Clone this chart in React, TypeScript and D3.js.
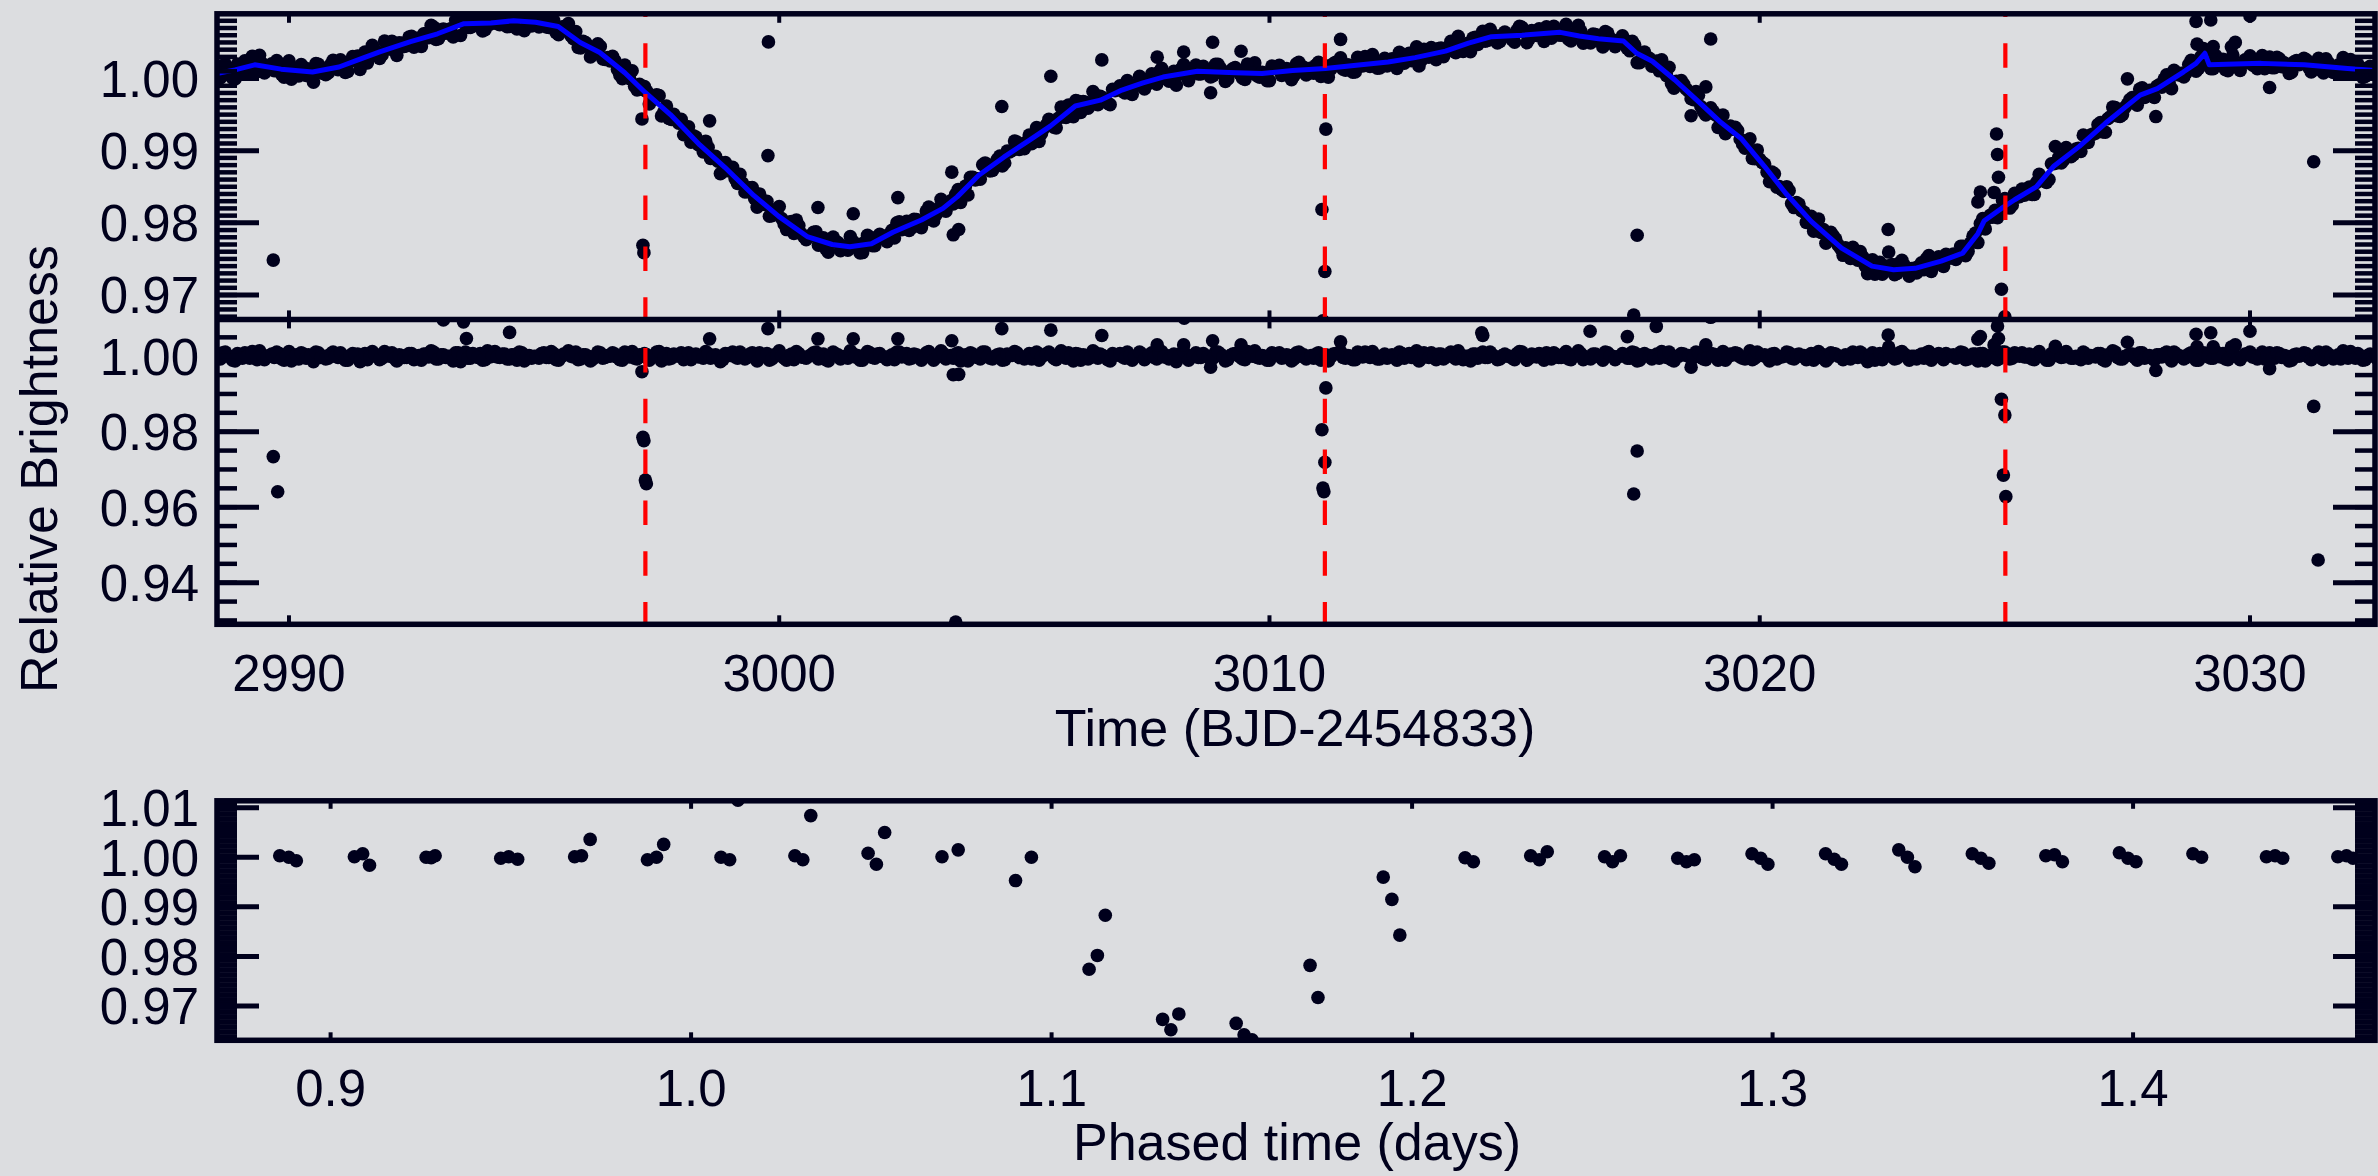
import React from "react";
import * as d3 from "d3";

// ---------- DATA ----------
// Smoothed model (blue line) knots: time (BJD-2454833) and relative flux
const trendTime = [
  2988.53, 2988.9, 2989.3, 2989.84, 2990.48, 2991.02, 2991.45, 2991.85, 2992.48, 2993.03,
  2993.57, 2994.12, 2994.58, 2995.03, 2995.49, 2995.94, 2996.34, 2996.85, 2997.26, 2997.78,
  2998.38, 2998.89, 2999.48, 2999.99, 3000.57, 3001.08, 3001.44, 3001.88, 3002.32, 3002.9,
  3003.34, 3003.63, 3004.07, 3004.58, 3005.09, 3005.53, 3006.04, 3006.55, 3006.99, 3007.42,
  3007.83, 3008.53, 3009.31, 3009.85, 3010.47, 3011.14, 3011.72, 3012.42, 3012.97, 3013.59,
  3014.06, 3014.53, 3015.15, 3015.93, 3016.32, 3016.71, 3017.22, 3017.49, 3017.81, 3018.27,
  3018.75, 3019.21, 3019.62, 3020.1, 3020.53, 3021.05, 3021.67, 3022.29, 3022.73, 3023.17,
  3023.7, 3024.14, 3024.45, 3024.58, 3024.93, 3025.2, 3025.64, 3025.99, 3026.52, 3027.05,
  3027.76, 3028.11, 3028.64, 3028.9, 3029.08, 3029.17, 3030.23, 3031.11, 3031.99, 3032.55,
];
const trendFlux = [
  1.0007, 1.0012, 1.0019, 1.0013, 1.0009, 1.0016, 1.0027, 1.0037, 1.0051, 1.0062,
  1.0076, 1.0077, 1.008, 1.0078, 1.0072, 1.005, 1.0036, 1.0008, 0.9981, 0.995,
  0.9908, 0.9877, 0.9838, 0.9809, 0.9781, 0.977, 0.9767, 0.9771, 0.9787, 0.9804,
  0.982, 0.9836, 0.9866, 0.9891, 0.9914, 0.9934, 0.9962, 0.997, 0.9984, 0.9994,
  1.0002, 1.001, 1.0008, 1.0007, 1.0011, 1.0014, 1.0018, 1.0023, 1.0029, 1.0038,
  1.0049, 1.0058, 1.006, 1.0064, 1.0059, 1.0055, 1.0052, 1.0035, 1.0024, 0.9998,
  0.9968, 0.9939, 0.9917, 0.9878, 0.9841, 0.9802, 0.9765, 0.974, 0.9735, 0.9737,
  0.9747, 0.9758, 0.9785, 0.9803, 0.982, 0.9832, 0.985, 0.9878, 0.9906, 0.9938,
  0.9977, 0.9986, 1.0009, 1.0021, 1.0035, 1.0019, 1.0021, 1.0019, 1.0014, 1.0011,
];

// Regular cadence residuals (middle panel), in units of 1.8e-4 around 1.0
const cadenceStart = 2988.5;
const cadenceStep = 0.1;
const noiseUnit = 1.8e-4;
// cadences at start + i*step
const residualNoiseA = [
  3, -4, 6, -1, -7, 2, 5, -3, 0, 8, -5, 1, -2, 4, -6, 7, -1, -4, 3, 2,
  -8, 5, 0, -3, 6, -2, 1, -6, 4, 3, -1, -5, 7, 0, -3, 2, 5, -7, 1, -2,
  4, -1, -6, 3, 8, -4, 2, -2, 0, 5, -8, 6, -3, 1, 4, -5, -1, 7, -2, 3,
  -4, 2, 6, -7, 1, 0, -3, 5, -2, 4, -6, 3, 8, -1, -5, 2, 0, -4, 6, -3,
  1, 5, -2, -6, 3, 7, -4, 0, 2, -1, 6, -7, 4, -3, 1, 5, -2, -5, 3, 0,
  7, -3, 2, -8, 4, 1, -1, 6, -4, 3, -2, 5, 0, -6, 2, 8, -3, 1, -5, 4,
  -2, 0, 5, -4, 3, -7, 6, 2, -1, -3, 4, 1, -6, 7, -2, 3, 0, -5, 2, 6,
  -1, 4, -3, 2, -6, 5, 0, -2, 8, -4, 1, 3, -7, 2, 5, -1, -4, 6, -3, 0,
  3, -5, 1, 7, -2, -4, 4, 0, -6, 2, 6, -3, 1, -1, 5, -7, 3, 2, -4, 8,
  -3, 1, -5, 4, 2, -1, 6, -6, 0, 3, -2, 5, -4, 7, 1, -3, -8, 4, 2, -1,
  5, -2, 0, -4, 6, 3, -7, 1, 4, -1, -5, 2, 8, -3, 0, -6, 3, 5, -2, 1,
  -4, 6, 2, -1, -3, 5, 0, -7, 3, 4, -2, 1, -5, 6, -1, 2, 7, -4, 0, -3,
  2, -6, 4, 1, -2, 8, -3, 0, 5, -5, 3, -1, 6, -4, 2, 0, -7, 3, 1, -2,
  6, -1, -4, 3, 0, -5, 7, 2, -3, 1, 4, -6, 0, 5, -2, 3, -4, 1, 8, -5,
  -2, 3, 1, -6, 5, 0, -1, 4, -3, 6, -7, 2, 1, -4, 3, 7, -2, -5, 0, 4,
  1, -3, 6, -2, -5, 4, 2, 0, -6, 3, 5, -1, -4, 8, -3, 1, 2, -7, 4, -1,
  0, 5, -4, 3, 1, -2, -6, 7, 2, -3, 4, 0, -5, 1, 6, -2, 3, -8, 5, -1,
  -5, 2, 4, -3, 7, -1, 0, -4, 3, 5, -6, 2, -2, 4, 1, -3, 6, -5, 0, 3,
  4, -7, 1, 2, -3, 6, -4, 5, 0, -1, 3, -5, 7, -2, -6, 2, 4, -1, 1, -3,
  -1, 6, -3, 0, 4, -5, 2, 8, -2, -4, 1, 3, -6, 5, 0, -3, 2, -1, 6, -7,
  3, 0, -2, 5, -6, 1, 4, -3, 7, -1, -4, 2, 0, -5, 3, 6, -2, 1, -4, 5,
  -3, 4, 1, -7, 2, 0, 5, -2, -1, 6, -5, 3, -4, 2, 8, -3, 0, 4, -6, 1,
  2, -4,
];
// cadences at start + step/2 + i*step
const residualNoiseB = [
  -2, 5, 1, -6, 4, -3, 0, 7, -5, 2, -1, 3, 6, -4, 0, -7, 2, 5, -3, 1,
  6, -2, -4, 3, 0, 5, -6, 1, 2, -8, 4, -1, 3, -5, 7, 0, -3, 2, -2, 4,
  -5, 1, 3, -1, 6, -4, 2, 0, -7, 5, 1, -3, 4, -2, -6, 8, 0, -1, 3, -4,
  2, -6, 5, 1, -3, 0, 4, -2, 7, -5, -1, 3, 0, 6, -4, 2, -7, 1, 5, -2,
  0, 3, -5, 6, -1, -3, 2, 4, -6, 1, 7, -2, -4, 3, 0, -5, 5, 2, -1, -3,
  4, -1, 0, -5, 3, 6, -3, 1, -2, 5, -7, 2, 4, -4, 1, 0, -6, 3, 7, -1,
  -3, 2, 6, -2, -5, 1, 3, -4, 0, 8, -1, -6, 2, 5, -3, 4, -2, 0, -5, 6,
  1, -4, 3, 0, -2, 7, -6, 2, 4, -1, -3, 5, 1, -7, 3, -2, 6, 0, -4, 2,
  -6, 3, 1, 5, -2, 0, -4, 6, -1, 3, 2, -5, 8, -3, 0, 4, -6, 1, -2, 5,
  3, -1, -7, 2, 4, -3, 1, 0, 6, -5, 2, -2, 5, -1, -4, 3, 0, 7, -6, 1,
  -2, 4, 0, -3, 6, -1, -5, 3, 2, -4, 7, 0, -2, 1, -6, 5, 3, -3, 2, -7,
  5, 0, -4, 1, 3, -6, 2, -1, 4, 7, -3, 0, -5, 2, 6, -2, 1, -4, 3, 0,
  -1, 6, -3, 4, 0, -7, 5, -2, 1, 3, -4, 2, -1, 8, -5, 0, 3, -3, 6, -2,
  2, -5, 1, 0, -3, 4, 6, -6, 3, -1, 0, 5, -4, 2, -2, 7, -5, 1, 4, -1,
  -4, 3, -2, 6, 1, -5, 0, 2, -3, 5, -6, 4, 1, -1, -3, 2, 6, -7, 0, 3,
  1, -2, 5, -4, 0, 3, -6, 7, -1, 2, 4, -3, 0, -5, 6, 1, -2, 3, -4, -1,
  6, -3, 2, 0, -5, 4, 1, -2, -7, 5, 3, -1, 2, -4, 0, 6, -3, 1, -6, 4,
  -1, 2, -4, 5, 3, -6, 0, 1, -3, 7, -2, 4, -5, 0, 2, -1, 5, -4, 3, -7,
  4, 0, -2, -5, 6, 2, -3, 1, 5, -1, -4, 3, 0, -6, 4, 1, -2, 7, -3, 0,
  -5, 3, 1, -1, 4, -7, 2, 6, -4, 0, 3, -2, 5, -3, 1, -6, 2, 4, -1, 6,
  0, -4, 3, 2, -6, 5, -1, -3, 1, 4, -5, 7, -2, 0, 3, -1, -4, 6, 2, -3,
  5, -2, 0, -6, 3, 1, 4, -5, 2, -3, 6, 0, -1, -4, 2, 7, -3, 1, -5, 3,
  -1, 4,
];

// Outlying / in-transit cadences: time and residual
const outlierTime = [
  2989.68, 2989.77, 2993.15, 2993.56, 2993.62, 2994.5,
  2997.2, 2997.22, 2997.24, 2997.27, 2997.29,
  2998.58, 2999.77, 2999.78, 3000.79, 3001.51, 3002.42, 3003.52, 3003.55, 3003.6, 3003.66,
  3004.54, 3005.54, 3006.58,
  3007.71, 3008.25, 3008.26, 3008.8, 3008.84, 3009.42,
  3011.07, 3011.09, 3011.11, 3011.13, 3011.15, 3011.45,
  3014.33, 3014.35, 3016.54, 3017.3, 3017.43, 3017.5, 3017.89, 3018.6, 3018.9, 3019.0,
  3022.62, 3022.63, 3024.45, 3024.5, 3024.78, 3024.83, 3024.85, 3024.87,
  3024.93, 3024.97, 3025.0, 3025.02,
  3026.03, 3027.5, 3028.08, 3028.9, 3028.92, 3029.2, 3029.25, 3029.62, 3029.7, 3030.0,
  3030.4, 3031.3, 3031.39,
];
const outlierResid = [
  0.9734, 0.9641, 1.0096, 1.0091, 1.0047, 1.0063,
  0.9959, 0.9785, 0.9776, 0.9672, 0.9662,
  1.0046, 1.0073, 1.0234, 1.0046, 1.0046, 1.0046, 1.0041, 0.9951, 0.9296, 0.9952,
  1.0073, 1.0069, 1.0055,
  1.003, 1.003, 1.0101, 0.9971, 1.0041, 1.003,
  0.9805, 0.9651, 0.9641, 0.9719, 0.9916, 1.0038,
  1.0062, 1.0055, 1.0066, 1.0052, 0.9635, 0.9749, 1.0079, 0.9971, 1.003, 1.0103,
  1.0056, 1.0024, 1.0045, 1.0052, 1.003, 1.011, 1.008, 1.0047,
  0.9886, 0.9685, 0.9844, 0.9628,
  1.0026, 1.0037, 0.9962, 1.0058, 1.0025, 1.0062, 1.0025, 1.0024, 1.003, 1.0066,
  0.9967, 0.9867, 0.946,
];

// Transit mid-times (red dashed lines)
const transitTimes = [2997.27, 3011.13, 3025.01];

// Phase-folded data (bottom panel)
const phaseTime = [
  0.8859, 0.8884, 0.8905, 0.9066, 0.9089, 0.9108, 0.9265, 0.9279, 0.929,
  0.9472, 0.9494, 0.9519, 0.9677, 0.9696, 0.972, 0.9879, 0.9904, 0.9924,
  1.0083, 1.0107, 1.013, 1.0288, 1.031, 1.0332, 1.0491, 1.0514, 1.0537,
  1.0696, 1.0741, 1.09, 1.0944, 1.1104, 1.1127, 1.1149, 1.1308, 1.1331, 1.1353,
  1.1512, 1.1534, 1.1556, 1.1717, 1.1739, 1.192, 1.1944, 1.1966, 1.2147, 1.217,
  1.2329, 1.2353, 1.2375, 1.2534, 1.2556, 1.2578, 1.2737, 1.2761, 1.2783,
  1.2943, 1.2967, 1.2987, 1.3147, 1.3171, 1.3191, 1.335, 1.3374, 1.3395,
  1.3554, 1.3578, 1.36, 1.3758, 1.3782, 1.3804, 1.3962, 1.3986, 1.4008,
  1.4166, 1.419, 1.437, 1.4394, 1.4415, 1.4568, 1.4592, 1.461,
];
const phaseFlux = [
  1.0003, 1.0, 0.9993, 1.0001, 1.0007, 0.9984, 1.0, 0.9999, 1.0003,
  0.9998, 1.0001, 0.9996, 1.0001, 1.0003, 1.0036, 0.9995, 1.0, 1.0026,
  1.0, 0.9995, 1.0115, 1.0003, 0.9995, 1.0084, 1.0008, 0.9986, 1.005,
  1.0001, 1.0015, 0.9953, 1.0, 0.9774, 0.9802, 0.9883, 0.9673, 0.9652, 0.9684,
  0.9665, 0.9642, 0.9632, 0.9782, 0.9717, 0.996, 0.9915, 0.9843, 0.9999, 0.9991,
  1.0003, 0.9995, 1.0011, 1.0001, 0.9991, 1.0003, 0.9998, 0.9991, 0.9995,
  1.0007, 0.9998, 0.9986, 1.0007, 0.9996, 0.9986, 1.0015, 1.0, 0.9981,
  1.0007, 0.9998, 0.9988, 1.0003, 1.0005, 0.9991, 1.0009, 0.9998, 0.9991,
  1.0007, 1.0, 1.0001, 1.0003, 0.9998, 1.0001, 1.0003, 0.9998,
];

// Tick values
const timeTicks = [2990, 3000, 3010, 3020, 3030];
const topYTicks = [0.97, 0.98, 0.99, 1.0];
const midYTicks = [0.94, 0.96, 0.98, 1.0];
const phaseXTicks = [0.9, 1.0, 1.1, 1.2, 1.3, 1.4];
const phaseYTicks = [0.97, 0.98, 0.99, 1.0, 1.01];

// ---------- LAYOUT ----------
const W = 2378;
const H = 1176;
const L = 217;
const R = 2375;
const TOP_T = 13.8;
const SEP = 319.4;
const MID_B = 624.3;
const BOT_T = 800.8;
const BOT_B = 1040.3;
const BG = "#dcdde0";
const INK = "#00001c";
const FONT = "'Liberation Sans', Arial, Helvetica, sans-serif";
const FS = 51;

export default function App() {
  const x = d3.scaleLinear().domain([2988.532, 3032.55]).range([L, R]);
  const yTop = d3.scaleLinear().domain([0.96662, 1.00897]).range([SEP, TOP_T]);
  const yMid = d3.scaleLinear().domain([0.92898, 1.00975]).range([MID_B, SEP]);
  const xPh = d3.scaleLinear().domain([0.86849, 1.46711]).range([L, R]);
  const yPh = d3.scaleLinear().domain([0.96308, 1.01139]).range([BOT_B, BOT_T]);

  const trendAt = d3.scaleLinear().domain(trendTime).range(trendFlux).clamp(true);

  const regularA = residualNoiseA.map((n, i) => ({
    t: cadenceStart + i * cadenceStep,
    r: 1 + n * noiseUnit,
  }));
  const regularB = residualNoiseB.map((n, i) => ({
    t: cadenceStart + cadenceStep / 2 + i * cadenceStep,
    r: 1 + n * noiseUnit,
  }));
  const outliers = outlierTime.map((t, i) => ({ t, r: outlierResid[i] }));
  const obs = regularA.concat(regularB, outliers);

  const trendPts: [number, number][] = trendTime.map((t, i) => [t, trendFlux[i]]);
  const trendLine = d3
    .line<[number, number]>()
    .x((d) => x(d[0]))
    .y((d) => yTop(d[1]))(trendPts);

  const R_DOT = 6.8;

  const yAxis = (
    scale: d3.ScaleLinear<number, number>,
    majors: number[],
    minors: number[],
    minorW: number,
    key: string,
    fmt: (v: number) => string,
    labels: boolean
  ) => {
    const [lo, hi] = scale.domain();
    const inRange = (v: number) => v >= lo - 1e-9 && v <= hi + 1e-9;
    return (
      <g key={key}>
        {minors.filter(inRange).map((v, i) => (
          <g key={"mn" + i}>
            <line x1={L} x2={L + 20} y1={scale(v)} y2={scale(v)} stroke={INK} strokeWidth={minorW} />
            <line x1={R} x2={R - 20} y1={scale(v)} y2={scale(v)} stroke={INK} strokeWidth={minorW} />
          </g>
        ))}
        {majors.filter(inRange).map((v, i) => (
          <g key={"mj" + i}>
            <line x1={L} x2={L + 42} y1={scale(v)} y2={scale(v)} stroke={INK} strokeWidth={5} />
            <line x1={R} x2={R - 42} y1={scale(v)} y2={scale(v)} stroke={INK} strokeWidth={5} />
            {labels && (
              <text
                x={199}
                y={scale(v)}
                dy="0.36em"
                textAnchor="end"
                fontFamily={FONT}
                fontSize={FS}
                fill={INK}
              >
                {fmt(v)}
              </text>
            )}
          </g>
        ))}
      </g>
    );
  };

  const fmt2 = d3.format(".2f");
  const fmt1 = d3.format(".1f");

  const topMinors = d3.range(966, 1010).map((v) => v / 1000);
  const midMinors = d3.range(185, 203).map((v) => v * 0.005);
  const phMinors = d3.range(1925, 2024).map((v) => v * 0.0005);

  return (
    <svg
      width={W}
      height={H}
      viewBox={`0 0 ${W} ${H}`}
      style={{ position: "fixed", left: 0, top: 0, background: BG }}
    >
      <defs>
        <clipPath id="clipTop">
          <rect x={L} y={TOP_T} width={R - L} height={SEP - TOP_T} />
        </clipPath>
        <clipPath id="clipMid">
          <rect x={L} y={SEP} width={R - L} height={MID_B - SEP} />
        </clipPath>
        <clipPath id="clipBot">
          <rect x={L} y={BOT_T} width={R - L} height={BOT_B - BOT_T} />
        </clipPath>
      </defs>
      <rect x={0} y={0} width={W} height={H} fill={BG} />

      {/* top panel: observed flux and model */}
      <g clipPath="url(#clipTop)">
        {obs.map((d, i) => (
          <circle key={"o" + i} cx={x(d.t)} cy={yTop(trendAt(d.t) * d.r)} r={R_DOT} fill={INK} />
        ))}
        <path d={trendLine || ""} fill="none" stroke="#0000ff" strokeWidth={5} strokeLinejoin="round" />
      </g>

      {/* middle panel: residuals */}
      <g clipPath="url(#clipMid)">
        {obs.map((d, i) => (
          <circle key={"m" + i} cx={x(d.t)} cy={yMid(d.r)} r={R_DOT} fill={INK} />
        ))}
      </g>

      {/* transit markers */}
      {transitTimes.map((t, i) => (
        <line
          key={"tr" + i}
          x1={x(t)}
          x2={x(t)}
          y1={TOP_T}
          y2={MID_B}
          stroke="#ff0000"
          strokeWidth={4.2}
          strokeDasharray="24.5 26.3"
          strokeDashoffset={21.4}
        />
      ))}

      {/* bottom panel: phased */}
      <g clipPath="url(#clipBot)">
        {phaseTime.map((p, i) => (
          <circle key={"p" + i} cx={xPh(p)} cy={yPh(phaseFlux[i])} r={R_DOT} fill={INK} />
        ))}
      </g>

      {/* axes */}
      {yAxis(yTop, topYTicks, topMinors, 4.5, "ayt", fmt2, true)}
      {yAxis(yMid, midYTicks, midMinors, 4.5, "aym", fmt2, true)}
      {yAxis(yPh, phaseYTicks, phMinors, 3, "ayp", fmt2, true)}

      {timeTicks.map((t, i) => (
        <g key={"xt" + i}>
          <line x1={x(t)} x2={x(t)} y1={TOP_T} y2={TOP_T + 9} stroke={INK} strokeWidth={4} />
          <line x1={x(t)} x2={x(t)} y1={SEP - 9} y2={SEP + 9} stroke={INK} strokeWidth={4} />
          <line x1={x(t)} x2={x(t)} y1={MID_B} y2={MID_B - 9} stroke={INK} strokeWidth={4} />
          <text x={x(t)} y={691} textAnchor="middle" fontFamily={FONT} fontSize={FS} fill={INK}>
            {t}
          </text>
        </g>
      ))}
      {phaseXTicks.map((p, i) => (
        <g key={"px" + i}>
          <line x1={xPh(p)} x2={xPh(p)} y1={BOT_T} y2={BOT_T + 8} stroke={INK} strokeWidth={4} />
          <line x1={xPh(p)} x2={xPh(p)} y1={BOT_B} y2={BOT_B - 8} stroke={INK} strokeWidth={4} />
          <text x={xPh(p)} y={1106} textAnchor="middle" fontFamily={FONT} fontSize={FS} fill={INK}>
            {fmt1(p)}
          </text>
        </g>
      ))}

      {/* frames */}
      <rect x={L} y={TOP_T} width={R - L} height={MID_B - TOP_T} fill="none" stroke={INK} strokeWidth={5.5} />
      <line x1={L} x2={R} y1={SEP} y2={SEP} stroke={INK} strokeWidth={5.5} />
      <rect x={L} y={BOT_T} width={R - L} height={BOT_B - BOT_T} fill="none" stroke={INK} strokeWidth={5.5} />

      {/* titles */}
      <text
        transform={`translate(57, 469) rotate(-90)`}
        textAnchor="middle"
        fontFamily={FONT}
        fontSize={52}
        fill={INK}
      >
        Relative Brightness
      </text>
      <text x={1295} y={746} textAnchor="middle" fontFamily={FONT} fontSize={52} fill={INK}>
        Time (BJD-2454833)
      </text>
      <text x={1297} y={1160} textAnchor="middle" fontFamily={FONT} fontSize={52} fill={INK}>
        Phased time (days)
      </text>
    </svg>
  );
}
